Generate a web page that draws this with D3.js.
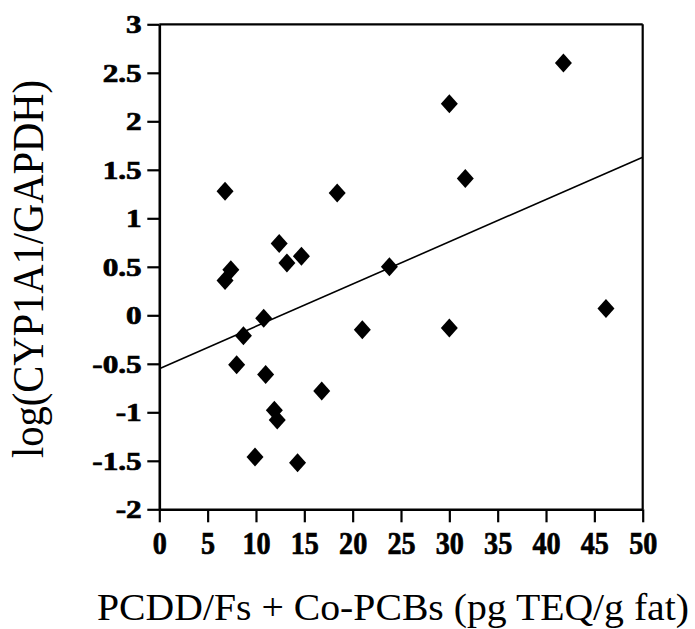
<!DOCTYPE html>
<html>
<head>
<meta charset="utf-8">
<script src="https://cdn.jsdelivr.net/npm/d3@7"></script>
<style>
  html, body { margin: 0; padding: 0; background: #fff; }
  svg { display: block; }
  .lbl { font-family: "Liberation Serif", "Times New Roman", serif; font-weight: 700; fill: #000; stroke: #000; stroke-width: 0.7px; }
  .ttl { font-family: "Liberation Serif", "Times New Roman", serif; font-weight: 400; fill: #000; }
</style>
</head>
<body>
<svg id="chart" width="695" height="629"></svg>
<script>
// ---- data ----
const teq = [6.8, 18.4, 12.4, 13.2, 14.7, 7.4, 6.8, 23.8, 10.8, 8.7, 21.0, 8.0, 11.0, 16.8, 11.9, 12.2, 9.9, 14.3, 41.8, 30.0, 31.65, 46.2, 30.0];
const logRatio = [1.28, 1.26, 0.74, 0.54, 0.61, 0.47, 0.36, 0.50, -0.03, -0.21, -0.15, -0.51, -0.61, -0.78, -0.98, -1.08, -1.46, -1.52, 2.60, 2.18, 1.41, 0.07, -0.13];
const fitIntercept = -0.55;
const fitSlope = 0.0436;
const xTicks = [0, 5, 10, 15, 20, 25, 30, 35, 40, 45, 50];
const yTicks = [-2, -1.5, -1, -0.5, 0, 0.5, 1, 1.5, 2, 2.5, 3];
const xTitle = "PCDD/Fs + Co-PCBs (pg TEQ/g fat)";
const yTitle = "log(CYP1A1/GAPDH)";

const svg = d3.select("#chart");
const x = d3.scaleLinear().domain([0, 50]).range([159.3, 642.7]);
const y = d3.scaleLinear().domain([-2, 3]).range([509.3, 24.3]);

// frame (top and right)
svg.append("line").attr("x1", x(0)).attr("x2", x(50)).attr("y1", y(3)).attr("y2", y(3))
  .attr("stroke", "#000").attr("stroke-width", 2.2);
svg.append("line").attr("x1", x(50)).attr("x2", x(50)).attr("y1", y(3)).attr("y2", y(-2))
  .attr("stroke", "#000").attr("stroke-width", 2.2);

// x axis
const gx = svg.append("g").attr("transform", `translate(0,${y(-2)})`)
  .call(d3.axisBottom(x).tickValues(xTicks).tickSize(13).tickSizeOuter(0).tickFormat(d => String(d)));
gx.attr("font-family", null).attr("font-size", null);
gx.select(".domain").attr("stroke-width", 2.6);
gx.selectAll(".tick line").attr("stroke-width", 2.2);
gx.selectAll(".tick text")
  .attr("class", "lbl")
  .style("font-size", "32px")
  .attr("dy", "0").attr("y", 44.7)
  .attr("transform", "scale(0.88,1)");

// y axis
const gy = svg.append("g").attr("transform", `translate(${x(0)},0)`)
  .call(d3.axisLeft(y).tickValues(yTicks).tickSize(12).tickSizeOuter(0).tickFormat(d => String(d)));
gy.attr("font-family", null).attr("font-size", null);
gy.select(".domain").attr("stroke-width", 2.6);
gy.selectAll(".tick line").attr("stroke-width", 2.2);
const ySx = 1.25;
gy.selectAll(".tick text")
  .attr("class", "lbl")
  .style("font-size", "25px")
  .attr("x", -17.6 / ySx).attr("dy", "0.34em")
  .attr("transform", `scale(${ySx},1)`);

// regression line
svg.append("line")
  .attr("x1", x(0)).attr("y1", y(fitIntercept))
  .attr("x2", x(50)).attr("y2", y(fitIntercept + fitSlope * 50))
  .attr("stroke", "#000").attr("stroke-width", 1.6);

// points (diamonds)
const pts = teq.map((v, i) => ({ x: v, y: logRatio[i] }));
svg.append("g").selectAll("path").data(pts).join("path")
  .attr("transform", d => `translate(${x(d.x)},${y(d.y)})`)
  .attr("d", "M0,-9.5L8.5,0L0,9.5L-8.5,0Z")
  .attr("fill", "#000");

// axis titles
svg.append("text").attr("class", "ttl")
  .attr("x", 97).attr("y", 620)
  .style("font-size", "38px")
  .attr("textLength", 592).attr("lengthAdjust", "spacingAndGlyphs")
  .text(xTitle);

svg.append("text").attr("class", "ttl")
  .attr("transform", "translate(43,458) rotate(-90) scale(1,1.1)")
  .style("font-size", "40px")
  .attr("textLength", 378).attr("lengthAdjust", "spacingAndGlyphs")
  .text(yTitle);
</script>
</body>
</html>
